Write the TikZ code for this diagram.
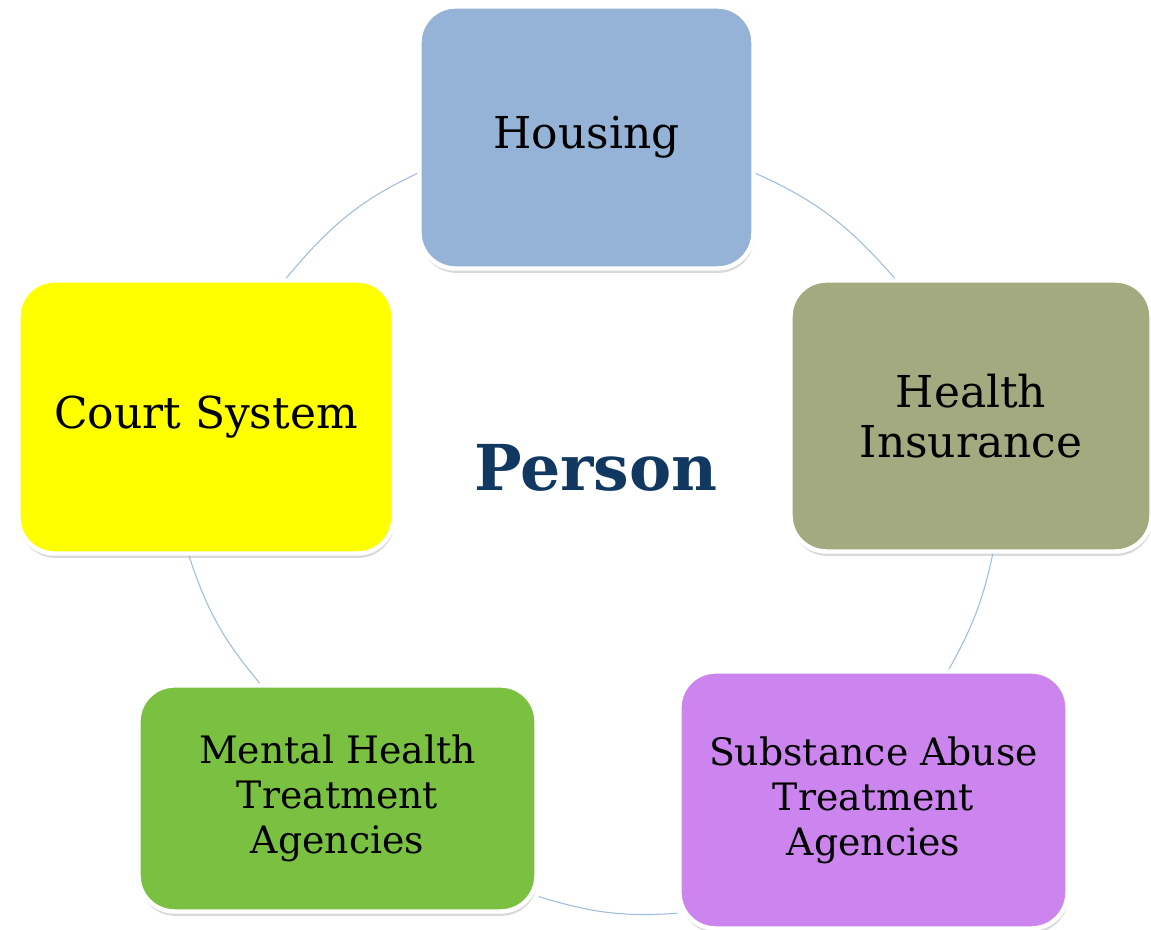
\documentclass[tikz,border=0pt]{standalone}
\usepackage{fontspec}
\setmainfont{DejaVu Serif}
\usetikzlibrary{shadows}
\definecolor{housingblue}{RGB}{149,179,215}
\definecolor{courtyellow}{RGB}{255,255,0}
\definecolor{insuranceolive}{RGB}{164,170,128}
\definecolor{abusepurple}{RGB}{204,132,238}
\definecolor{mentalgreen}{RGB}{122,193,66}
\definecolor{persondark}{RGB}{17,56,97}
\definecolor{arcblue}{RGB}{160,188,220}

\begin{document}
\begin{tikzpicture}[
	area/.style={draw=white,line width=2.5pt,rounded corners=0.72cm,align=center,text=black,
		drop shadow={shadow xshift=0.5pt,shadow yshift=-2.5pt,opacity=0.3}},
	toptext/.style={font=\fontsize{25}{28.4}\selectfont},
	lowtext/.style={font=\fontsize{21.5}{25.6}\selectfont},
	cycle/.style={draw=arcblue,line width=0.6pt}]
	\useasboundingbox (0,0) rectangle (23.02,18.6);
	\node (housing) at (11.73,15.85)[area,toptext,fill=housingblue,minimum width=6.68cm,minimum height=5.24cm] {Housing};
	\node (insurance) at (19.42,10.28)[area,toptext,fill=insuranceolive,minimum width=7.22cm,minimum height=5.42cm] {Health\\Insurance};
	\node (abuse) at (17.47,2.6)[area,lowtext,fill=abusepurple,minimum width=7.76cm,minimum height=5.14cm] {Substance Abuse\\Treatment\\Agencies};
	\node (mental) at (6.75,2.63)[area,lowtext,fill=mentalgreen,minimum width=7.96cm,minimum height=4.52cm] {Mental Health\\Treatment\\Agencies};
	\node (court) at (4.12,10.26)[area,toptext,fill=courtyellow,minimum width=7.5cm,minimum height=5.46cm] {Court System};
	\node (person) at (11.92,9.24)[font=\fontsize{36}{40}\selectfont\bfseries,text=persondark] {Person};
	\draw[cycle] (court.60) to[out=50,in=205] (housing.192);
	\draw[cycle] (housing.-12) to[out=-24,in=131] (insurance.119);
	\draw[cycle] (insurance.-81) to[out=-102,in=61] (abuse.60);
	\draw[cycle] (abuse.210) to[out=184,in=-17] (mental.-26);
	\draw[cycle] (mental.124) to[out=130,in=288] (court.263);
\end{tikzpicture}
\end{document}
